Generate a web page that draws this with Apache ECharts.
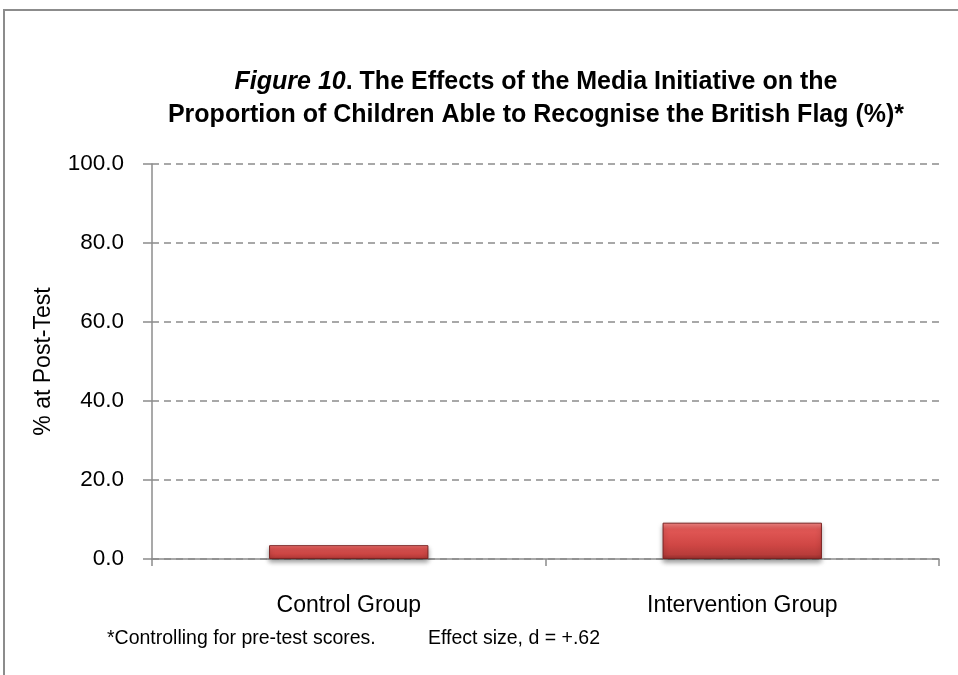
<!DOCTYPE html>
<html>
<head>
<meta charset="utf-8">
<style>
  html, body { margin: 0; padding: 0; background: #fff; }
  #chart { width: 958px; height: 675px; }
</style>
<script src="https://cdn.jsdelivr.net/npm/echarts@6/dist/echarts.min.js"></script>
</head>
<body>
<div id="chart"></div>
<script>
// Post-test recognition of the British flag, by group
const categories = ['Control Group', 'Intervention Group'];
const postTestPercent = [3.5, 9.2];
const yTicks = { min: 0, max: 100, interval: 20 };

const FONT = '"Liberation Sans", Arial, sans-serif';

const chart = echarts.init(document.getElementById('chart'));

chart.setOption({
  animation: false,
  textStyle: { fontFamily: FONT },
  title: {
    text: '{it|Figure 10}. The Effects of the Media Initiative on the\nProportion of Children Able to Recognise the British Flag (%)*',
    left: 531,
    top: 61,
    textAlign: 'center',
    textStyle: {
      fontFamily: FONT,
      fontSize: 25,
      fontWeight: 'bold',
      color: '#000',
      lineHeight: 33,
      rich: {
        it: { fontFamily: FONT, fontSize: 25, fontWeight: 'bold', fontStyle: 'italic', color: '#000', lineHeight: 33 }
      }
    }
  },
  grid: { left: 152, right: 19, top: 164, bottom: 116, containLabel: false },
  xAxis: {
    type: 'category',
    data: categories,
    axisLine: { lineStyle: { color: '#8c8c8c', width: 1.5 } },
    axisTick: { show: true, length: 7, lineStyle: { color: '#8c8c8c', width: 1.5 } },
    axisLabel: { fontFamily: FONT, fontSize: 23, color: '#000', margin: 35 }
  },
  yAxis: {
    type: 'value',
    min: yTicks.min,
    max: yTicks.max,
    interval: yTicks.interval,
    name: '% at Post-Test',
    nameLocation: 'middle',
    nameGap: 97,
    nameTextStyle: { fontFamily: FONT, fontSize: 23, color: '#000' },
    axisLine: { show: true, lineStyle: { color: '#8c8c8c', width: 1.5 } },
    axisTick: { show: true, inside: false, length: 9, lineStyle: { color: '#8c8c8c', width: 1.5 } },
    axisLabel: {
      fontFamily: FONT, fontSize: 22.5, color: '#000', margin: 28,
      formatter: v => v.toFixed(1)
    },
    splitLine: { show: true, lineStyle: { color: '#8c8c8c', width: 1.5, type: [7, 5] } }
  },
  series: [{
    type: 'bar',
    data: postTestPercent,
    barWidth: '40.5%',
    itemStyle: {
      color: {
        type: 'linear', x: 0, y: 0, x2: 0, y2: 1,
        colorStops: [
          { offset: 0, color: '#f48886' },
          { offset: 0.18, color: '#e25856' },
          { offset: 0.6, color: '#d04745' },
          { offset: 0.88, color: '#b83c3a' },
          { offset: 1, color: '#922e2c' }
        ]
      },
      borderColor: '#7a2322',
      borderWidth: 1,
      shadowColor: 'rgba(0,0,0,0.4)',
      shadowBlur: 5,
      shadowOffsetY: 3
    }
  }],
  graphic: [
    {
      type: 'polyline',
      shape: { points: [[4, 675], [4, 10], [958, 10]] },
      style: { stroke: '#8c8c8c', lineWidth: 2, fill: null },
      silent: true
    },
    {
      type: 'text',
      left: 107,
      top: 629,
      style: { text: '*Controlling for pre-test scores.', font: '19.5px ' + FONT, fill: '#000' }
    },
    {
      type: 'text',
      left: 428,
      top: 629,
      style: { text: 'Effect size, d = +.62', font: '19.5px ' + FONT, fill: '#000' }
    }
  ]
});
</script>
</body>
</html>
